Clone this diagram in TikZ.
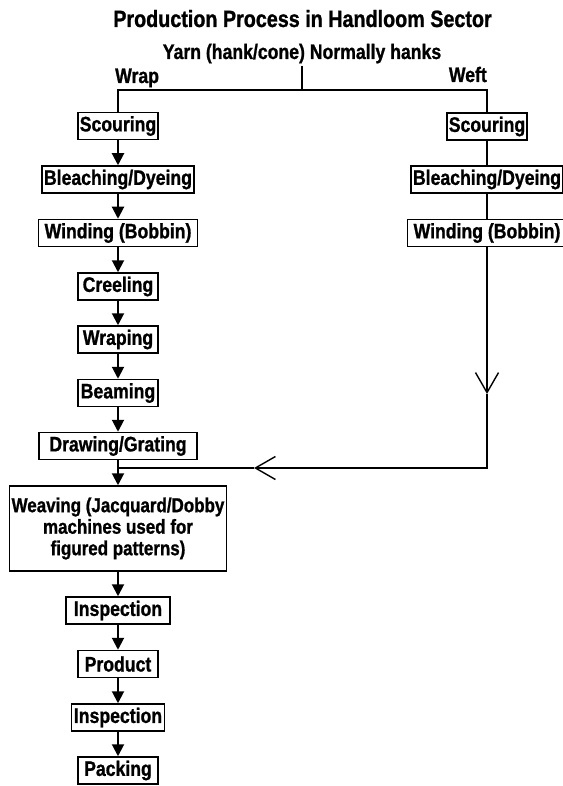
\documentclass[tikz,border=0pt]{standalone}
\usepackage{fontspec}
\newfontfamily\diafont{Liberation Sans}[FakeStretch=0.84,FakeBold=1]
\usetikzlibrary{arrows.meta}
\begin{document}
\begin{tikzpicture}[x=1pt,y=-1pt,
  font=\diafont\bfseries\fontsize{21}{21}\selectfont,
  stepbox/.style={draw=black,line width=1.5pt,minimum height=27pt,inner xsep=2pt,inner ysep=1pt,align=center},
  arr/.style={line width=2pt,-{Triangle[length=12pt,width=12pt]}},
  plain/.style={line width=1.8pt},
  thin/.style={line width=1.4pt},
  barb/.style={line width=1.4pt,-{Straight Barb[length=20pt,width=23pt]}}]
\useasboundingbox[fill=white] (0,0) rectangle (562,786);
% titles
\node[anchor=base,inner sep=0pt,font=\diafont\bfseries\fontsize{23.5}{24}\selectfont] (title) at (302.5,27) {Production Process in Handloom Sector};
\node[anchor=base,inner sep=2pt] (yarn) at (302,59) {Yarn (hank/cone) Normally hanks};
\node[anchor=base west,inner sep=0pt] (wrap) at (115,83) {Wrap};
\node[anchor=base east,inner sep=0pt] (weft) at (487,82) {Weft};
\coordinate (junc) at (302,90);
% left column
\node[stepbox,minimum width=80pt] (s1) at (118,126) {Scouring};
\node[stepbox,minimum width=152pt] (b1) at (118,179.5) {Bleaching/Dyeing};
\node[stepbox,minimum width=159pt] (w1) at (118,233) {Winding (Bobbin)};
\node[stepbox,minimum width=80pt] (cr) at (118,286.5) {Creeling};
\node[stepbox,minimum width=80pt] (wr) at (118,339.5) {Wraping};
\node[stepbox,minimum width=80pt] (bm) at (118,393) {Beaming};
\node[stepbox,minimum width=158pt] (dg) at (118,446) {Drawing/Grating};
\node[stepbox,minimum width=215pt,minimum height=85pt,font=\diafont\bfseries\fontsize{20.2}{21.5}\selectfont] (wv) at (118,528.5) {Weaving (Jacquard/Dobby\\machines used for\\figured patterns)};
\node[stepbox,minimum width=104pt] (in1) at (118,610.5) {Inspection};
\node[stepbox,minimum width=80pt] (pr) at (118,664) {Product};
\node[stepbox,minimum width=93pt] (in2) at (118,717.5) {Inspection};
\node[stepbox,minimum width=80pt] (pk) at (118,770.5) {Packing};
% right column
\node[stepbox,minimum width=80pt] (s2) at (487,126.5) {Scouring};
\node[stepbox,minimum width=152pt] (b2) at (487,179.5) {Bleaching/Dyeing};
\node[stepbox,minimum width=159pt] (w2) at (487,233) {Winding (Bobbin)};
% split
\draw[plain] (yarn.south) -- (junc);
\draw[plain] (s1.north) |- (junc) -| (s2.north);
% left arrows
\draw[arr] (s1) -- (b1);
\draw[arr] (b1) -- (w1);
\draw[arr] (w1) -- (cr);
\draw[arr] (cr) -- (wr);
\draw[arr] (wr) -- (bm);
\draw[arr] (bm) -- (dg);
\draw[arr] (dg) -- (wv);
\draw[arr] (wv) -- (in1);
\draw[arr] (in1) -- (pr);
\draw[arr] (pr) -- (in2);
\draw[arr] (in2) -- (pk);
% right lines
\draw[thin] (s2) -- (b2);
\draw[thin] (b2) -- (w2);
\coordinate (v1) at (487,394);
\coordinate (v2) at (254,468);
\coordinate (m) at (118,468);
\draw[barb] (w2.south) -- (v1);
\draw[barb] (v1) |- (v2);
\draw[thin] (v2) -- (m);
\end{tikzpicture}
\end{document}
